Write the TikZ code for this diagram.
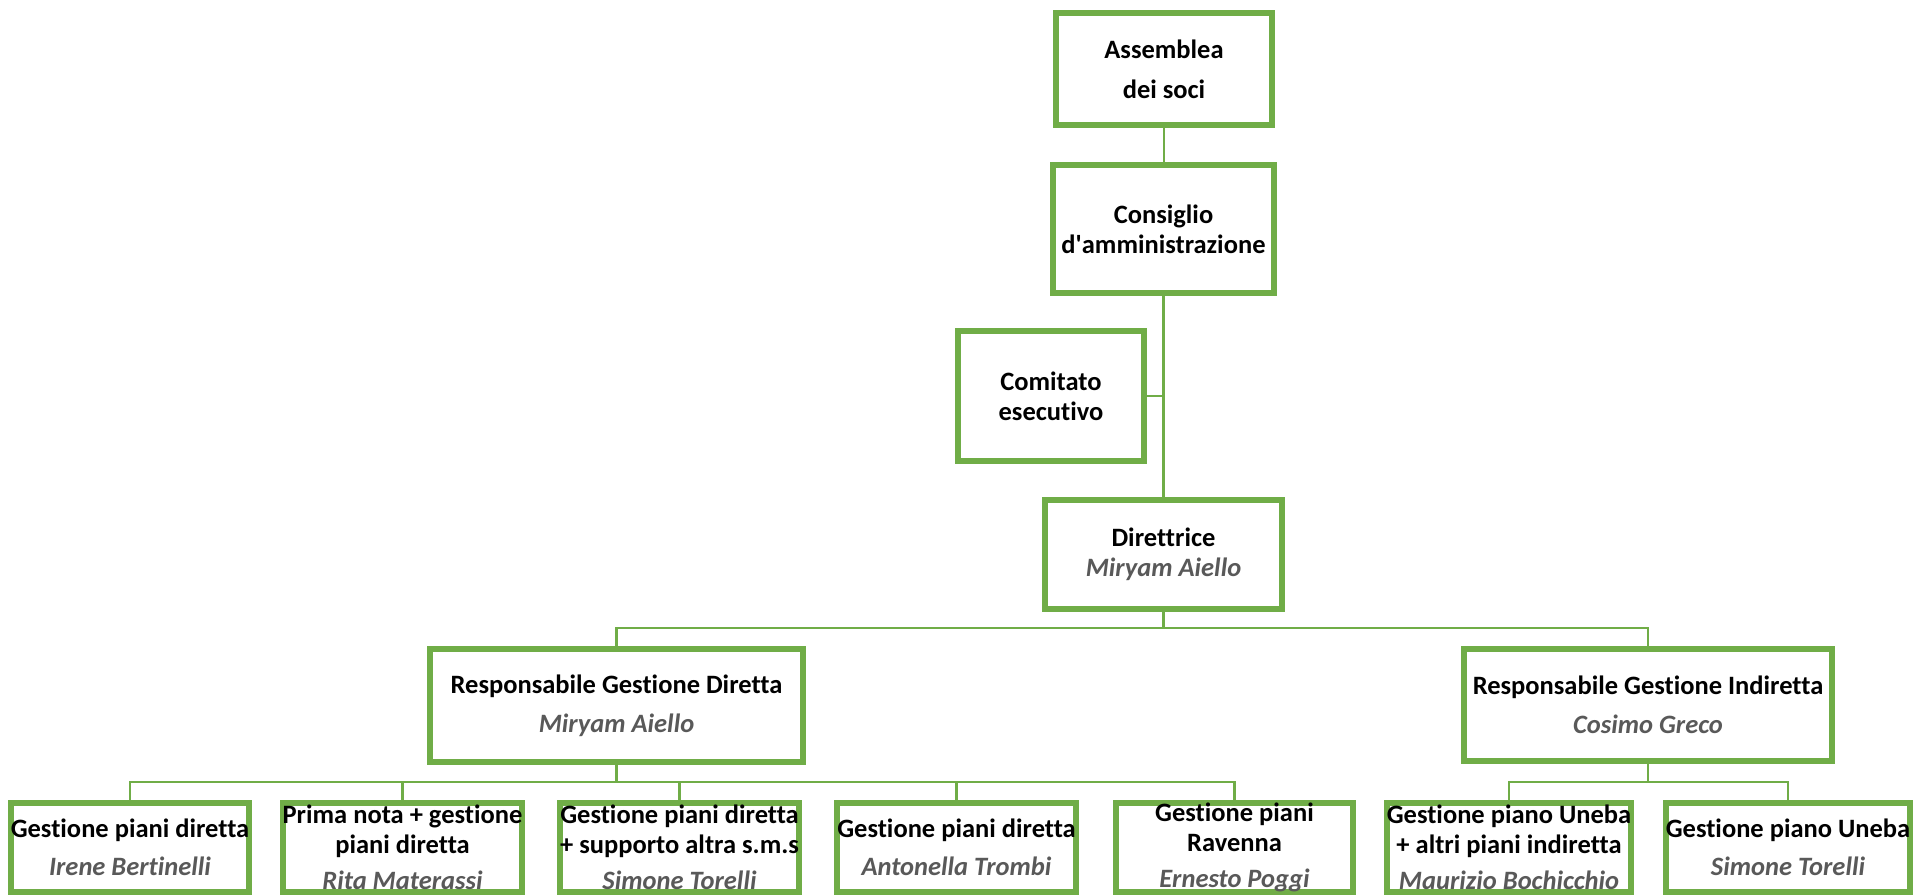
\documentclass[tikz,border=0pt]{standalone}
\usepackage{fontspec}
\setmainfont{Carlito}[Ligatures={TeX,CommonOff}]
\usepackage{xcolor}
\usepackage{tikz}
\usetikzlibrary{positioning}

\definecolor{verde}{HTML}{70AD47}
\definecolor{grigio}{HTML}{595959}
\newcommand{\nome}[1]{{\color{grigio}\itshape #1}}

\begin{document}
\begin{tikzpicture}[x=1pt,y=-1pt,
		box/.style={draw=verde,line width=6pt,fill=white,inner sep=0pt,align=center,
			font=\fontsize{26.5}{30}\selectfont\bfseries},
		leaf/.style={box,minimum width=237pt,minimum height=89pt},
		link/.style={draw=verde,line width=2.5pt}
	]
	\useasboundingbox (0,0) rectangle (1915,896);

	\node[box,minimum width=216pt,minimum height=112pt] (asm) at (1164,69) {Assemblea\\[10pt]dei soci};
	\node[box,minimum width=221pt,minimum height=128pt] (cda) at (1163.5,229) {Consiglio\\d\textquotesingle amministrazione};
	\node[box,minimum width=186pt,minimum height=130pt] (com) at (1051,396) {Comitato\\esecutivo};
	\node[box,minimum width=237pt,minimum height=109pt] (dir) at (1163.5,554.5) {Direttrice\\\nome{Miryam Aiello}};

	\node[box,minimum width=373pt,minimum height=113pt] (rgd) at (616.5,705.5) {Responsabile Gestione Diretta\\[9pt]\nome{Miryam Aiello}};
	\node[box,minimum width=368pt,minimum height=112pt] (rgi) at (1648,705) {Responsabile Gestione Indiretta\\[9pt]\nome{Cosimo Greco}};

	\node[leaf] (g1) at (130,847.5) {Gestione piani diretta\\[8pt]\nome{Irene Bertinelli}};
	\node[leaf] (g2) at (402.5,847.5) {Prima nota + gestione\\piani diretta\\[6pt]\nome{Rita Materassi}};
	\node[leaf] (g3) at (679.5,847.5) {Gestione piani diretta\\+ supporto altra s.m.s\\[6pt]\nome{Simone Torelli}};
	\node[leaf] (g4) at (956.5,847.5) {Gestione piani diretta\\[8pt]\nome{Antonella Trombi}};
	\node[leaf] (g5) at (1234.5,847.5) {Gestione piani\\Ravenna\\[6pt]\nome{Ernesto Poggi}};
	\node[leaf] (g6) at (1509,847.5) {Gestione piano Uneba\\+ altri piani indiretta\\[6pt]\nome{Maurizio Bochicchio}};
	\node[leaf] (g7) at (1788,847.5) {Gestione piano Uneba\\[8pt]\nome{Simone Torelli}};

	\draw[link] (asm.south) -- (asm.south |- cda.north);
	\draw[link] (cda.south) -- (dir.north);
	\draw[link] (com.east) -- (com.east -| cda.south);
	\foreach \r in {rgd,rgi}
		\draw[link] (dir.south) |- (\r.north |- 0,628) -- (\r.north);
	\foreach \i in {1,...,5}
		\draw[link] (rgd.south) |- (g\i.north |- 0,782) -- (g\i.north);
	\foreach \i in {6,7}
		\draw[link] (rgi.south) |- (g\i.north |- 0,782) -- (g\i.north);
\end{tikzpicture}
\end{document}
